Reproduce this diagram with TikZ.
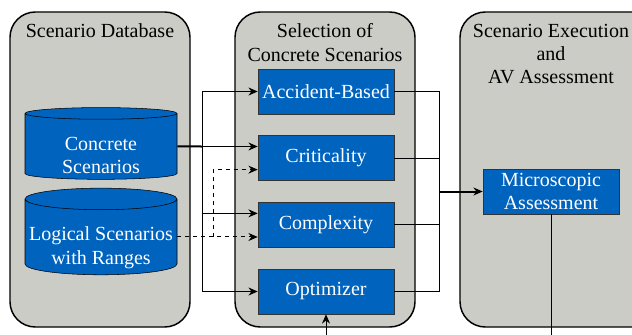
\documentclass[tikz,border=0pt]{standalone}
\usepackage{fontspec}
\setmainfont{Liberation Serif}
\usetikzlibrary{shapes.geometric,arrows.meta}

\definecolor{panelgray}{RGB}{204,204,198}
\definecolor{boxblue}{RGB}{0,99,190}

\begin{document}
\begin{tikzpicture}[x=0.75pt,y=-0.75pt,->,>={Stealth[length=7pt,width=6pt]},node distance=50pt,
  font=\fontsize{15}{17.5}\selectfont,
  panel/.style={draw,-,line width=1.1pt,fill=panelgray,rounded corners=19pt},
  title node/.style={anchor=north,inner sep=0pt,align=center},
  block node/.style={draw=black!80,fill=boxblue,text=white,minimum width=102pt,minimum height=33.75pt,inner sep=1pt,align=center},
  db node/.style={draw,cylinder,shape border rotate=90,aspect=0.15,fill=boxblue,text=white,minimum width=114pt,minimum height=50pt,inner sep=0pt,align=center,text height=40.5pt,text depth=-16.5pt},
  link/.style={line width=0.75pt},
  trunk/.style={line width=1.5pt}]

\clip (0,0) rectangle (632,335);

% panels
\draw[panel] (10,12) rectangle (190,327);
\draw[panel] (235,12) rectangle (415,327);
\draw[panel] (460,12) rectangle (690,327);

\node[title node] (dbt) at (100,23.5) {Scenario Database};
\node[title node] (selt) at (325,23.5) {Selection of\\Concrete Scenarios};
\node[title node] (exet) at (551,23.5) {Scenario Execution\\and\\AV Assessment};

% scenario sources
\node[db node] (conc) at (101,146.5) {Concrete\\Scenarios};
\node[db node] (logi) at (101,237) {Logical Scenarios\\with Ranges};

% selection methods
\node[block node] (acc) at (326,91.5) {Accident-Based};
\node[block node, below of=acc] (crit) {Criticality};
\node[block node, below of=crit] (cplx) {Complexity};
\node[block node, below of=cplx] (opt) {Optimizer};

\node[block node] (mic) at (551,191.5) {Microscopic\\Assessment};

\coordinate (split) at (202,146.5);
\coordinate (dsplit) at (213,237);
\coordinate (merge) at (439,191.5);
\coordinate (optin) at (326,345);
\coordinate (micout) at (551,345);

\draw[trunk,-] (conc.east) -- (split);
\draw[link] (split) -- (split -| crit.west);
\draw[link] (split) |- (acc.west);
\draw[link] (split) |- ([yshift=8.6pt]cplx.west);
\draw[link] (split) |- (opt.west);
\draw[link,dashed] (logi.east) -- (logi.east -| cplx.west);
\draw[link,dashed] (dsplit) |- ([yshift=-8.6pt]crit.west);

\draw[link,-] (acc.east) -| (merge);
\draw[link,-] (crit.east) -| (merge);
\draw[link,-] (cplx.east) -| (merge);
\draw[link,-] (opt.east) -| (merge);
\draw[trunk] (merge) -- (mic.west);

\draw[link] (optin) -- (opt.south);
\draw[link,-] (mic.south) -- (micout);
\end{tikzpicture}
\end{document}
